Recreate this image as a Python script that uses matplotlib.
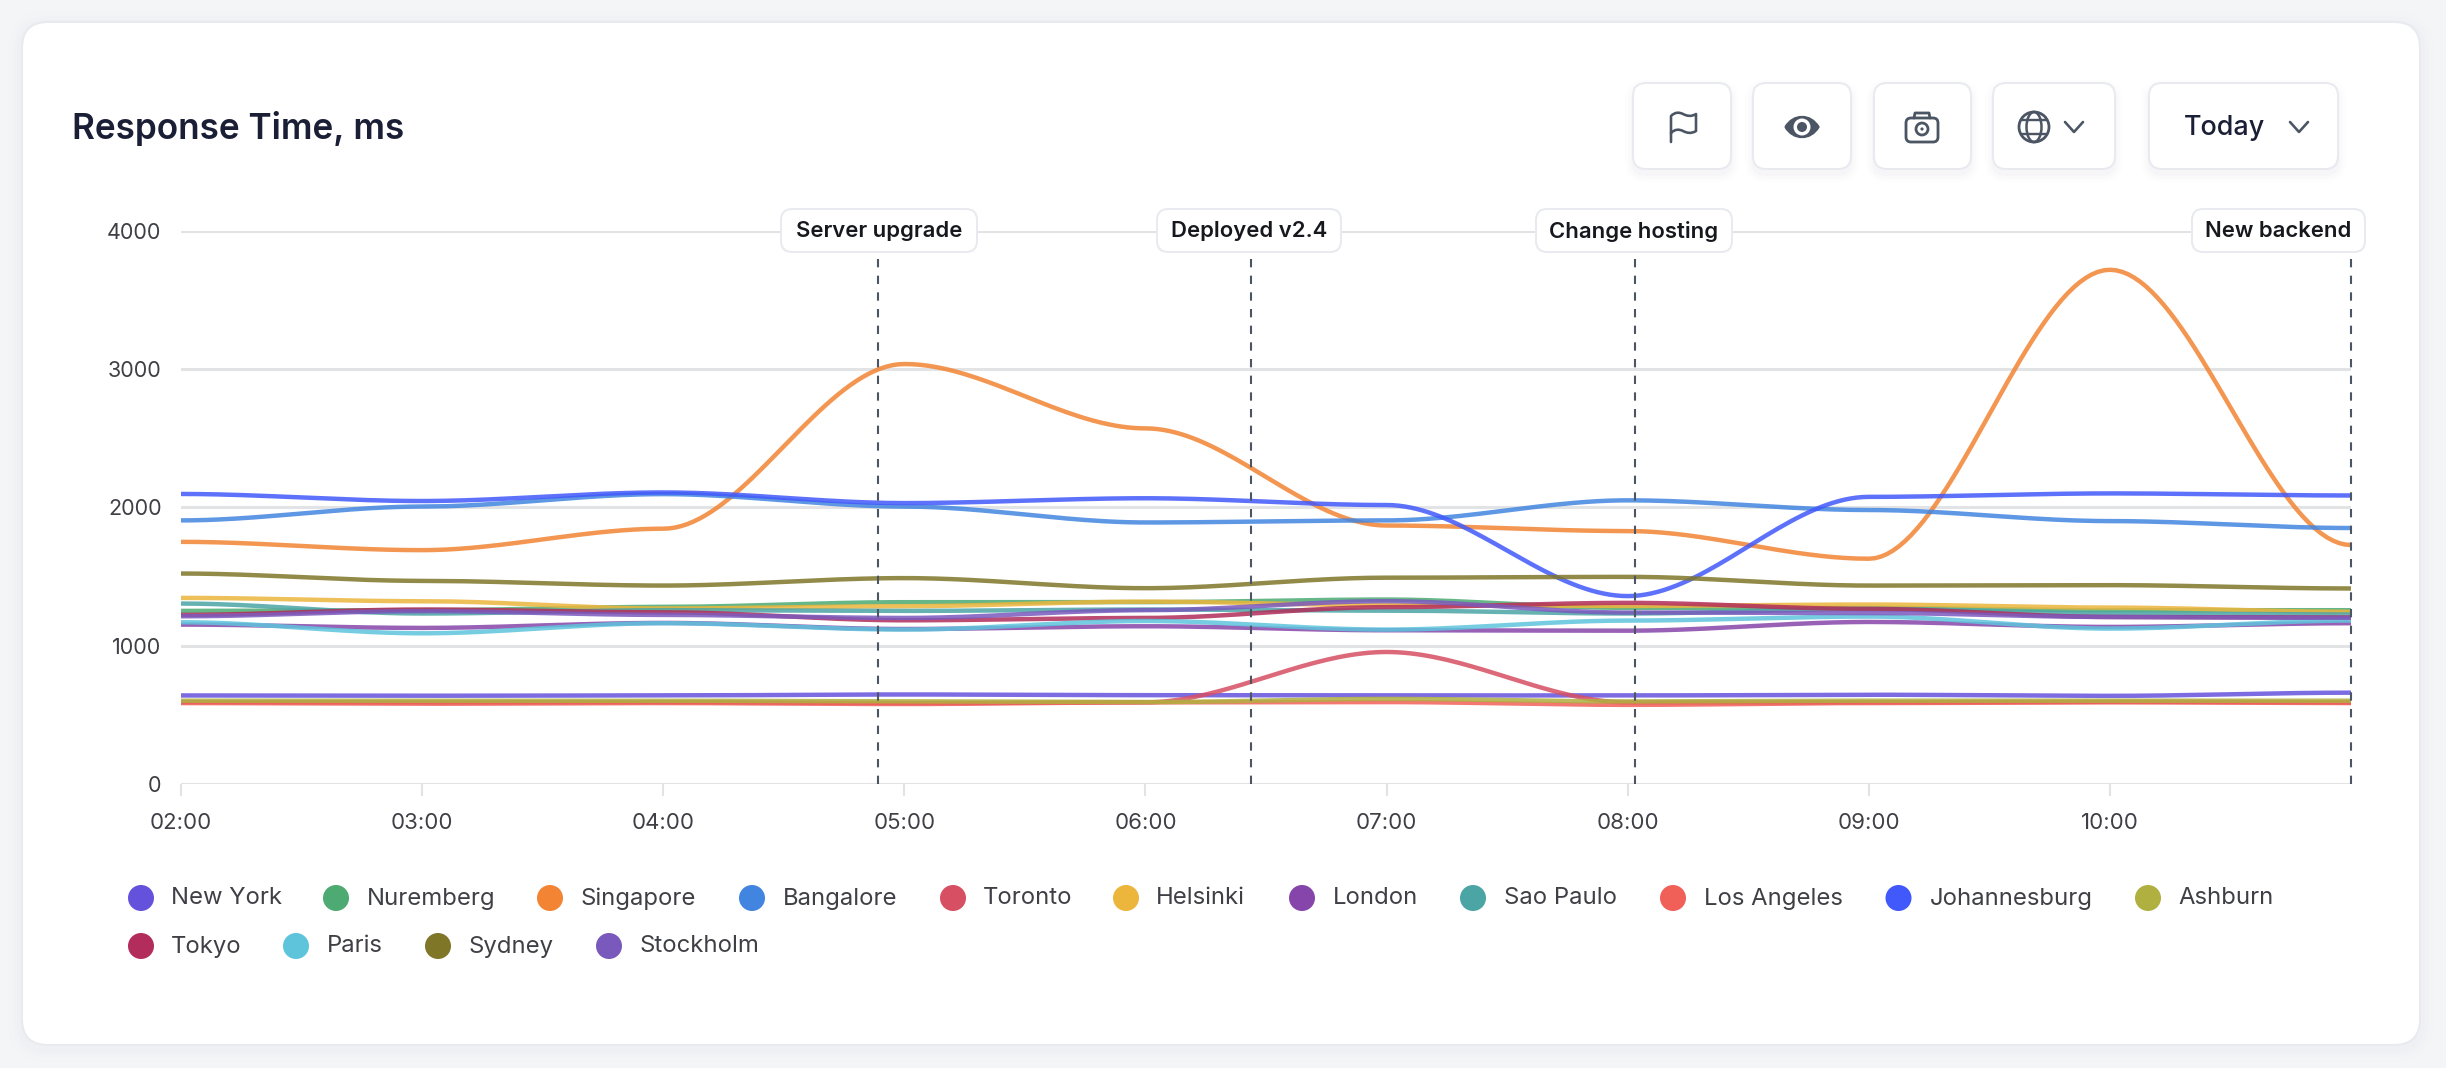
import numpy as np
import matplotlib
matplotlib.use("Agg")
import matplotlib.pyplot as plt
from matplotlib.patches import FancyBboxPatch, Circle, Ellipse, PathPatch
from matplotlib.path import Path

plt.rcParams['font.family'] = ['Inter', 'DejaVu Sans']

hours = [2, 3, 4, 5, 6, 7, 8, 9, 10, 11]
tick_hours = [2, 3, 4, 5, 6, 7, 8, 9, 10]
tick_labels = ['02:00', '03:00', '04:00', '05:00', '06:00', '07:00', '08:00', '09:00', '10:00']
y_ticks = [0, 1000, 2000, 3000, 4000]

new_york = [640, 638, 640, 647, 642, 640, 640, 645, 637, 660]
nuremberg = [1251, 1256, 1280, 1314, 1314, 1333, 1273, 1273, 1256, 1256]
singapore = [1750, 1690, 1845, 3035, 2570, 1868, 1828, 1628, 3716, 1727]
bangalore = [1905, 2005, 2095, 2005, 1890, 1905, 2050, 1980, 1900, 1850]
toronto = [592, 590, 592, 585, 590, 954, 590, 590, 595, 590]
helsinki = [1345, 1321, 1268, 1285, 1318, 1292, 1287, 1297, 1275, 1244]
london = [1152, 1128, 1164, 1120, 1140, 1111, 1108, 1171, 1135, 1162]
sao_paulo = [1304, 1232, 1256, 1251, 1261, 1253, 1232, 1265, 1232, 1225]
los_angeles = [585, 580, 585, 578, 590, 592, 572, 585, 590, 585]
johannesburg = [2096, 2045, 2107, 2030, 2065, 2016, 1358, 2075, 2100, 2085]
ashburn = [602, 602, 602, 597, 592, 615, 597, 602, 602, 602]
tokyo = [1222, 1261, 1241, 1183, 1200, 1278, 1309, 1265, 1207, 1203]
paris = [1169, 1089, 1162, 1116, 1178, 1116, 1181, 1210, 1123, 1181]
sydney = [1521, 1468, 1434, 1488, 1415, 1491, 1497, 1434, 1437, 1413]
stockholm = [1212, 1249, 1222, 1200, 1256, 1321, 1239, 1236, 1207, 1200]

names = ['New York', 'Nuremberg', 'Singapore', 'Bangalore', 'Toronto', 'Helsinki', 'London',
         'Sao Paulo', 'Los Angeles', 'Johannesburg', 'Ashburn', 'Tokyo', 'Paris', 'Sydney', 'Stockholm']
series = [new_york, nuremberg, singapore, bangalore, toronto, helsinki, london,
          sao_paulo, los_angeles, johannesburg, ashburn, tokyo, paris, sydney, stockholm]
colors = ['#6452DD', '#4CAA72', '#F28433', '#4285E0', '#D64F63', '#ECB53C', '#8645AA',
          '#4BA5A5', '#F06058', '#4158FA', '#B0B040', '#B22D5B', '#5EC4DC', '#7F7628', '#7A59BD']

event_labels = ['Server upgrade', 'Deployed v2.4', 'Change hosting', 'New backend']
event_hours = [4.892, 6.436, 8.029, 11.0]

INK = '#3F3F46'
DARK = '#1A1F36'
ICON = '#4B5563'
BORDER = '#E8EAEF'
W, H = 2446, 1068


def eased(x, y, per=40):
    """The line shape between read values: level tangents at each hour."""
    x = np.asarray(x, float)
    y = np.asarray(y, float)
    t = np.linspace(0, 1, per, endpoint=False)
    s = 3 * t**2 - 2 * t**3
    xs = [x[i] + t * (x[i + 1] - x[i]) for i in range(len(x) - 1)] + [x[-1:]]
    ys = [y[i] + s * (y[i + 1] - y[i]) for i in range(len(x) - 1)] + [y[-1:]]
    return np.concatenate(xs), np.concatenate(ys)


fig = plt.figure(figsize=(W / 100, H / 100), dpi=100, facecolor='#F4F5F7')


def px_axes(z):
    a = fig.add_axes([0, 0, 1, 1], zorder=z)
    a.set_xlim(0, W)
    a.set_ylim(H, 0)
    a.axis('off')
    a.patch.set_alpha(0)
    return a


bg = px_axes(0)
fg = px_axes(3)


def rbox(a, x0, y0, x1, y1, r, fc='white', ec=BORDER, lw=2, alpha=None, z=1):
    p = FancyBboxPatch((x0 + r, y0 + r), x1 - x0 - 2 * r, y1 - y0 - 2 * r,
                       boxstyle=f'round,pad={r},rounding_size={r}', fc=fc, ec=ec,
                       lw=lw * 0.72, alpha=alpha, zorder=z, mutation_aspect=1)
    a.add_patch(p)
    return p


# card with a soft shadow
for g, al in zip((14, 9, 5), (0.006, 0.01, 0.014)):
    rbox(bg, 22 - g, 22 - g + 3, 2420 + g, 1045 + g + 3, 26 + g, fc='#8A94A6', ec='none', alpha=al, z=0.5)
rbox(bg, 22, 22, 2420, 1045, 26, fc='white', ec=BORDER, lw=2, z=1)

bg.text(72, 128, 'Response Time, ms', fontsize=25.3, fontweight='semibold', color=DARK, va='center', ha='left')

# chart
ax = fig.add_axes([181 / W, 1 - 784 / H, (2351 - 181) / W, (784 - 230.5) / H], zorder=2)
ax.patch.set_alpha(0)
ax.set_xlim(2, 11)
ax.set_ylim(0, 4000)
for sp in ax.spines.values():
    sp.set_visible(False)
ax.set_yticks(y_ticks)
ax.set_xticks(tick_hours)
ax.set_xticklabels(tick_labels)
ax.yaxis.grid(True, color='#E2E3E5', lw=2.2)
ax.set_axisbelow(True)
ax.tick_params(axis='y', length=0, pad=14, labelsize=15.5, labelcolor=INK)
ax.tick_params(axis='x', length=8.6, width=1.5, color='#E2E3E5', pad=12.5, labelsize=16, labelcolor=INK)

for vals, col in zip(series, colors):
    xs, ys = eased(hours, vals)
    ax.plot(xs, ys, color=col, lw=3.2, alpha=0.85, solid_capstyle='butt', zorder=2)

for h in event_hours:
    ax.axvline(h, color=ICON, lw=1.5, ls=(0, (4, 4)), zorder=4, clip_on=False, ymax=(784 - 252) / (784 - 230.5))

# event labels
boxes = [(781, 977), (1157, 1341), (1536, 1732), (2192, 2365)]
for (x0, x1), lab in zip(boxes, event_labels):
    rbox(fg, x0, 209, x1, 252, 11, fc='white', ec=BORDER, lw=2, z=2)
    fg.text((x0 + x1) / 2, 231, lab, fontsize=15.9, fontweight='semibold', color='#16181D',
            ha='center', va='center', zorder=3)

# toolbar buttons
btns = [(1633, 1731), (1753, 1851), (1874, 1971), (1993, 2115), (2149, 2338)]
for x0, x1 in btns:
    for g, al in zip((8, 5, 2), (0.015, 0.02, 0.03)):
        rbox(bg, x0 - g, 83 - g + 5, x1 + g, 169 + g + 5, 13 + g, fc='#8A94A6', ec='none', alpha=al, z=1.2)
    rbox(bg, x0, 83, x1, 169, 13, fc='white', ec=BORDER, lw=2, z=1.5)


def stroke(verts, codes=None, lw=2.6, col=ICON, fc='none', z=2):
    bg.add_patch(PathPatch(Path(verts, codes), fc=fc, ec=col, lw=lw * 0.72, zorder=z,
                           capstyle='round', joinstyle='round'))


M, L, C4 = Path.MOVETO, Path.LINETO, Path.CURVE4
# flag
stroke([(1671, 142), (1671, 116),
        (1675, 112), (1679, 112), (1683, 114), (1687, 116), (1691, 117), (1696, 114),
        (1696, 131),
        (1691, 134), (1687, 133), (1683, 131), (1679, 129), (1675, 129), (1671, 133)],
       [M, L, C4, C4, C4, C4, C4, C4, L, C4, C4, C4, C4, C4, C4])
# eye
eye_v = [(1785, 127), (1793, 113), (1811, 113), (1819, 127), (1811, 141), (1793, 141), (1785, 127)]
bg.add_patch(PathPatch(Path(eye_v, [M, C4, C4, C4, C4, C4, C4]), fc=ICON, ec=ICON, lw=1, zorder=2))
bg.add_patch(Circle((1802, 127), 8.5, fc='white', ec='none', zorder=3))
bg.add_patch(Circle((1802, 127), 5, fc=ICON, ec='none', zorder=4))
# camera
rbox(bg, 1906, 118, 1938, 142, 5, fc='none', ec=ICON, lw=2.8, z=2)
stroke([(1914, 118), (1915, 113), (1929, 113), (1930, 118)], [M, L, L, L], lw=2.8)
bg.add_patch(Circle((1922, 129), 6, fc='none', ec=ICON, lw=2, zorder=2))
bg.add_patch(Circle((1922, 129), 1.6, fc=ICON, ec='none', zorder=2))
# globe
bg.add_patch(Circle((2034, 127), 15, fc='none', ec=ICON, lw=2, zorder=2))
bg.add_patch(Ellipse((2034, 127), 15, 30, fc='none', ec=ICON, lw=1.8, zorder=2))
stroke([(2021, 120), (2047, 120)], lw=2.4)
stroke([(2021, 134), (2047, 134)], lw=2.4)
# chevrons
stroke([(2065, 122), (2074, 132), (2083, 122)], lw=2.6)
stroke([(2290, 122), (2299, 132), (2308, 122)], lw=2.6, col=ICON)
bg.text(2184, 128, 'Today', fontsize=19.4, fontweight='medium', color=DARK, ha='left', va='center', zorder=2)

# legend
dot_x = [141, 336, 550, 752, 953, 1126, 1302, 1473, 1673, 1898.5, 2148, 141, 296, 438, 609]
text_x = [171, 367, 581, 783, 983, 1156, 1333, 1504, 1704, 1929.5, 2178, 171, 326.5, 469, 639.5]
rows = [898] * 11 + [946] * 4
for nm, col, dx, tx, y in zip(names, colors, dot_x, text_x, rows):
    bg.add_patch(Circle((dx, y), 13, fc=col, ec='none', zorder=2))
    bg.text(tx, y + 0.5, nm, fontsize=17.2, color=INK, ha='left', va='center', zorder=2)

fig.savefig('out.png', dpi=100, facecolor=fig.get_facecolor())
